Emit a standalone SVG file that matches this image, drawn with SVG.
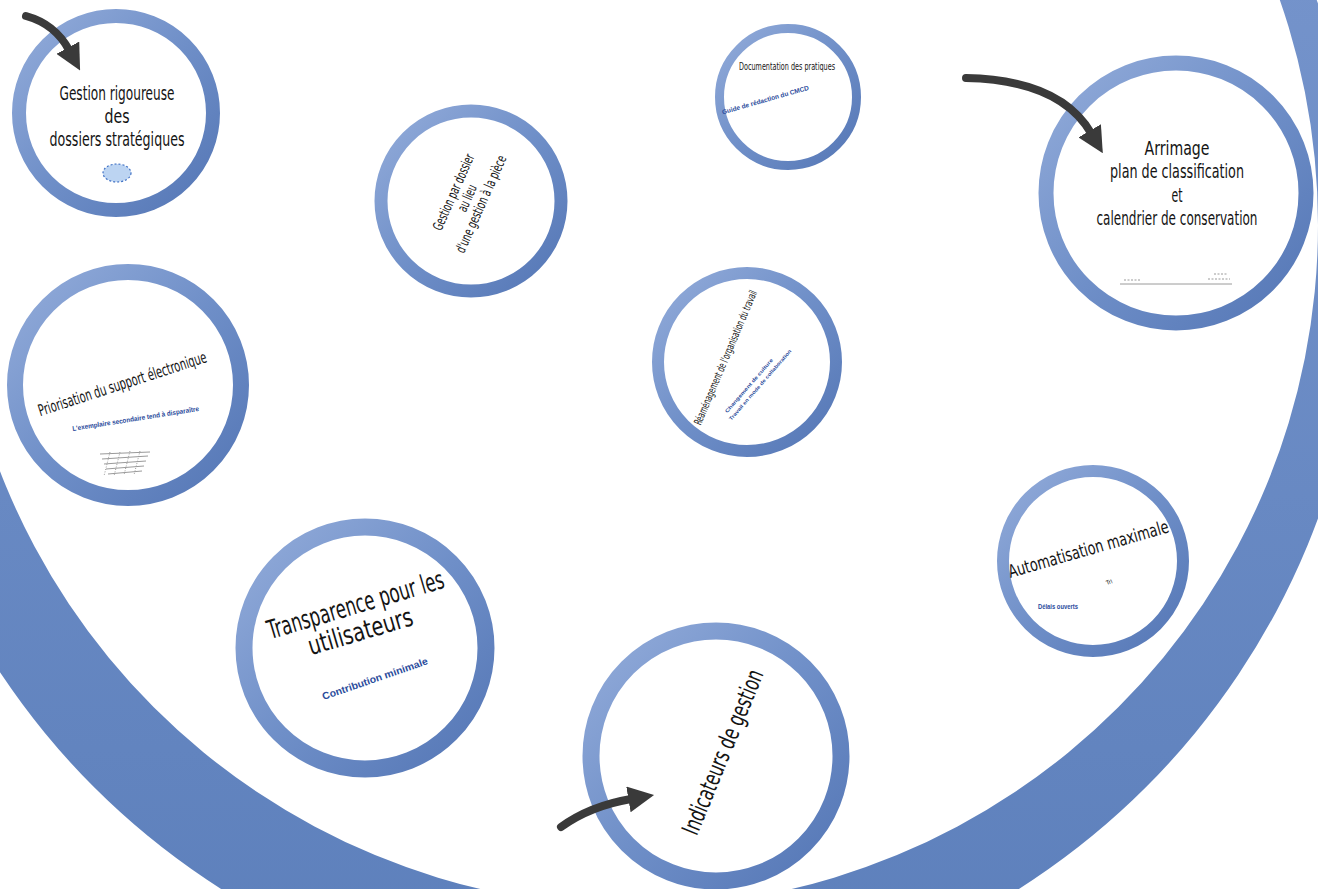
<svg xmlns="http://www.w3.org/2000/svg" width="1318" height="889" viewBox="0 0 1318 889">
<defs>
<linearGradient id="band" x1="0" y1="0" x2="0" y2="1">
<stop offset="0" stop-color="#7f9cd2"/>
<stop offset="1" stop-color="#5c7fbb"/>
</linearGradient>
<linearGradient id="rg" x1="0" y1="0" x2="1" y2="1">
<stop offset="0" stop-color="#93acda"/>
<stop offset="0.5" stop-color="#6f8fc8"/>
<stop offset="1" stop-color="#5476b5"/>
</linearGradient>
<marker id="ah" viewBox="0 0 10 10" refX="1" refY="5" markerWidth="26" markerHeight="26" markerUnits="userSpaceOnUse" orient="auto">
<path d="M0,0 L10,5 L0,10 Z" fill="#3a3a3a"/>
</marker>
</defs>
<style>
.ring{fill:#ffffff;stroke:url(#rg)}
.t{font-family:"Liberation Sans Narrow","DejaVu Sans Condensed","Liberation Sans",sans-serif;fill:#141414;text-anchor:middle}
.b{font-family:"Liberation Sans","DejaVu Sans",sans-serif;fill:#2b4c9c;text-anchor:middle;font-weight:bold}
.arr{fill:none;stroke:#3a3a3a;stroke-width:8;stroke-linecap:round;marker-end:url(#ah)}
.img{stroke:#9a9a9a;stroke-width:1;fill:none}
</style>
<rect width="1318" height="889" fill="#ffffff"/>
<path id="background-band" fill="url(#band)" fill-rule="evenodd" d="M-124,261 A744,744 0 1,0 1364,261 A744,744 0 1,0 -124,261 Z M-46,225 A682,682 0 1,0 1318,225 A682,682 0 1,0 -46,225 Z"/>

<g id="node-gestion-rigoureuse">
<circle class="ring" cx="116" cy="113" r="97" stroke-width="14"/>
<text class="t" x="117" y="100" font-size="19" textLength="115" lengthAdjust="spacingAndGlyphs">Gestion rigoureuse</text>
<text class="t" x="117" y="123" font-size="19" textLength="25" lengthAdjust="spacingAndGlyphs">des</text>
<text class="t" x="117" y="146" font-size="19" textLength="135" lengthAdjust="spacingAndGlyphs">dossiers stratégiques</text>
<ellipse cx="117" cy="173" rx="14" ry="9" fill="#bcd4f2" stroke="#3d6fc4" stroke-width="1.2" stroke-dasharray="2 2"/>
</g>

<g id="node-documentation">
<circle class="ring" cx="788" cy="97" r="68.5" stroke-width="9"/>
<text class="t" x="787" y="70" font-size="10" textLength="96" lengthAdjust="spacingAndGlyphs">Documentation des pratiques</text>
<text class="b" font-size="6.5" font-weight="normal" transform="translate(766,102) rotate(-16)" textLength="90" lengthAdjust="spacingAndGlyphs">Guide de rédaction du CMCD</text>
</g>

<g id="node-gestion-par-dossier">
<circle class="ring" cx="471" cy="201" r="90" stroke-width="13"/>
<g transform="translate(467,198) rotate(-66)">
<text class="t" x="0" y="-10" font-size="14" textLength="82" lengthAdjust="spacingAndGlyphs">Gestion par dossier</text>
<text class="t" x="0" y="5" font-size="14" textLength="28" lengthAdjust="spacingAndGlyphs">au lieu</text>
<text class="t" x="0" y="20" font-size="14" textLength="105" lengthAdjust="spacingAndGlyphs">d'une gestion à la pièce</text>
</g>
</g>

<g id="node-reorganisation">
<circle class="ring" cx="747" cy="362" r="89" stroke-width="12"/>
<text class="t" font-size="11" transform="translate(729,359) rotate(-67)" textLength="145" lengthAdjust="spacingAndGlyphs">Réaménagement de l'organisation du travail</text>
<g transform="translate(757,382) rotate(-49)">
<text class="b" x="-8" y="-2" font-size="5" font-weight="normal" textLength="70" lengthAdjust="spacingAndGlyphs">Changement de culture</text>
<text class="b" x="0" y="6" font-size="5" font-weight="normal" fill="#333" textLength="92" lengthAdjust="spacingAndGlyphs">Travail en mode de collaboration</text>
</g>
</g>

<g id="node-priorisation">
<circle class="ring" cx="128" cy="385" r="113" stroke-width="16"/>
<text class="t" font-size="16" transform="translate(124,389) rotate(-18)" textLength="176" lengthAdjust="spacingAndGlyphs">Priorisation du support électronique</text>
<text class="b" font-size="7" transform="translate(136,421) rotate(-9)" textLength="128" lengthAdjust="spacingAndGlyphs">L'exemplaire secondaire tend à disparaître</text>
<g class="img">
<path d="M100,454 L150,452 M102,459 L148,456 M104,464 L146,461 M106,469 L144,466 M108,474 L142,471"/>
<path d="M110,452 L104,476 M120,452 L114,476 M130,451 L124,475 M140,451 L134,475" stroke-dasharray="1 1.5"/>
</g>
</g>

<g id="node-arrimage">
<circle class="ring" cx="1176" cy="193" r="130" stroke-width="15"/>
<text class="t" x="1177" y="155" font-size="19" textLength="65" lengthAdjust="spacingAndGlyphs">Arrimage</text>
<text class="t" x="1177" y="178" font-size="19" textLength="134" lengthAdjust="spacingAndGlyphs">plan de classification</text>
<text class="t" x="1177" y="202" font-size="19" textLength="11" lengthAdjust="spacingAndGlyphs">et</text>
<text class="t" x="1177" y="225" font-size="19" textLength="161" lengthAdjust="spacingAndGlyphs">calendrier de conservation</text>
<g class="img">
<path d="M1120,284 L1232,284"/>
<path d="M1124,280 L1140,280 M1208,279 L1230,279 M1214,274 L1228,274" stroke-dasharray="2 1.5"/>
</g>
</g>

<g id="node-automatisation">
<circle class="ring" cx="1093" cy="561" r="90" stroke-width="12"/>
<text class="t" font-size="18" transform="translate(1090,555) rotate(-16)" textLength="166" lengthAdjust="spacingAndGlyphs">Automatisation maximale</text>
<text class="t" font-size="6" transform="translate(1110,584) rotate(-20)">Tri</text>
<text class="b" font-size="6.5" font-weight="normal" fill="#2f4a86" x="1058" y="609" textLength="40" lengthAdjust="spacingAndGlyphs">Délais ouverts</text>
</g>

<g id="node-transparence">
<circle class="ring" cx="365" cy="648" r="121" stroke-width="17"/>
<g transform="translate(360,620) rotate(-16.5)">
<text class="t" x="0" y="-7" font-size="26" textLength="183" lengthAdjust="spacingAndGlyphs">Transparence pour les</text>
<text class="t" x="-3" y="20" font-size="26" textLength="108" lengthAdjust="spacingAndGlyphs">utilisateurs</text>
</g>
<text class="b" font-size="10" transform="translate(376,682) rotate(-19)" textLength="111" lengthAdjust="spacingAndGlyphs">Contribution minimale</text>
</g>

<g id="node-indicateurs">
<circle class="ring" cx="716" cy="756" r="125" stroke-width="17"/>
<text class="t" font-size="24" transform="translate(723,752) rotate(-67.6)" y="8" textLength="176" lengthAdjust="spacingAndGlyphs">Indicateurs de gestion</text>
</g>

<g id="connectors">
<path class="arr" d="M26,16 Q55,24 69,50"/>
<path class="arr" d="M966,78 Q1060,80 1091,133"/>
<path class="arr" d="M561,827 Q590,806 631,799"/>
</g>
</svg>
